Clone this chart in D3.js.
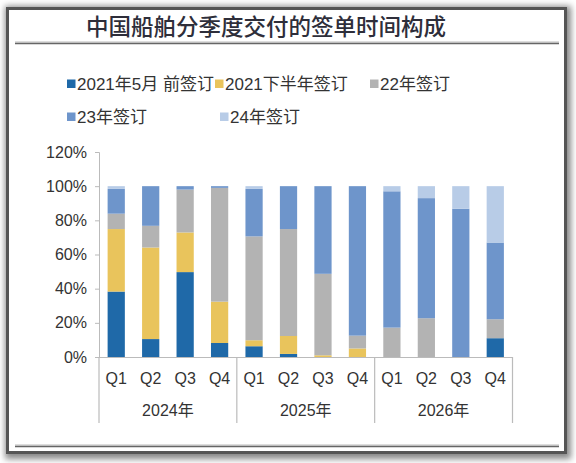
<!DOCTYPE html>
<html><head><meta charset="utf-8">
<script src="https://cdn.jsdelivr.net/npm/d3@7/dist/d3.min.js"></script>
<style>
html,body{margin:0;padding:0;background:#fff;}
svg{display:block;}
</style></head>
<body>
<script>
const title = "中国船舶分季度交付的签单时间构成";
const quarters = ["Q1","Q2","Q3","Q4","Q1","Q2","Q3","Q4","Q1","Q2","Q3","Q4"];
const years = ["2024年","2025年","2026年"];
const seriesNames = ["2021年5月 前签订","2021下半年签订","22年签订","23年签订","24年签订"];
const colors = ["#1f69a8","#e9c45c","#b3b3b3","#6e95cb","#b8cce7"];
const s2021May = [38.3, 10.5, 49.7, 8.2, 6.3, 1.8, 0, 0, 0, 0, 0, 11];
const s2021H2  = [36.6, 53.6, 23.2, 24.2, 3.5, 10.5, 1, 5, 0, 0, 0, 0];
const s22      = [9, 12.7, 25.1, 66.6, 60.8, 62.6, 47.7, 7.5, 17.2, 22.7, 0, 11.1];
const s23      = [14.5, 23.2, 2, 1, 27.8, 25.1, 51.3, 87.5, 79.8, 70.3, 86.8, 44.9];
const s24      = [1.6, 0, 0, 0, 1.6, 0, 0, 0, 3, 7, 13.2, 33];
const yTicks = [0,20,40,60,80,100,120];

const W=576,H=463;
const svg=d3.select("body").append("svg").attr("width",W).attr("height",H);
const defs=svg.append("defs");
const f=defs.append("filter").attr("id","sh").attr("x","-5%").attr("y","-5%").attr("width","110%").attr("height","110%");
f.append("feGaussianBlur").attr("stdDeviation",3);

// frame
svg.append("rect").attr("x",5).attr("y",6).attr("width",566).attr("height",453).attr("fill","#888").attr("filter","url(#sh)");
svg.append("rect").attr("x",7.5).attr("y",8.5).attr("width",558).attr("height",444).attr("fill","#fff").attr("stroke","#555").attr("stroke-width",3);

// title
svg.append("text").attr("x",266).attr("y",35).attr("text-anchor","middle")
  .attr("font-family","'Noto Sans CJK SC'").attr("font-size",22.5).attr("font-weight",500)
  .attr("fill","#2e2e3a").attr("letter-spacing",0).text(title);
[43,446].forEach(y=>{
  svg.append("line").attr("x1",15).attr("x2",559).attr("y1",y-1).attr("y2",y-1).attr("stroke","#bbb").attr("stroke-width",1);
  svg.append("line").attr("x1",15).attr("x2",559).attr("y1",y+0.5).attr("y2",y+0.5).attr("stroke","#666").attr("stroke-width",1.5);
});

// scales
const x=d3.scaleBand().domain(d3.range(12)).range([99,512.5]).paddingInner(0.5).paddingOuter(0.25);
const y=d3.scaleLinear().domain([0,120]).range([357,152]);

const data=quarters.map((q,i)=>({i,v:[s2021May[i],s2021H2[i],s22[i],s23[i],s24[i]]}));
const stack=d3.stack().keys([0,1,2,3,4]).value((d,k)=>d.v[k]);
const layers=stack(data);

const g=svg.append("g");
layers.forEach((layer,k)=>{
  g.append("g").attr("fill",colors[k]).selectAll("rect").data(layer).join("rect")
    .attr("x",d=>x(d.data.i)).attr("width",x.bandwidth())
    .attr("y",d=>y(d[1])).attr("height",d=>Math.max(0,y(d[0])-y(d[1])));
});

const font="'Liberation Sans','Noto Sans CJK SC',sans-serif";
// y axis
const ya=svg.append("g").attr("transform","translate(99,0)")
  .call(d3.axisLeft(y).tickValues(yTicks).tickFormat(d=>d+"%").tickSize(4).tickPadding(8));
ya.select(".domain").attr("stroke","#bbb");
ya.selectAll(".tick line").attr("stroke","#bbb");
ya.selectAll("text").attr("font-family",font).attr("font-size",16).attr("fill","#333");

// x axis
svg.append("line").attr("x1",99).attr("x2",512.5).attr("y1",357.5).attr("y2",357.5).attr("stroke","#bbb");
const grpW=(512.5-99)/3;
[0,1,2,3].forEach(j=>{
  const xx=99+j*grpW;
  svg.append("line").attr("x1",xx).attr("x2",xx).attr("y1",357).attr("y2",423).attr("stroke","#bbb").attr("stroke-width",1.2);
});
svg.append("g").selectAll("text").data(quarters).join("text")
  .attr("x",(d,i)=>x(i)+x.bandwidth()/2).attr("y",384).attr("text-anchor","middle")
  .attr("font-family",font).attr("font-size",16).attr("fill","#333").text(d=>d);
svg.append("g").selectAll("text").data(years).join("text")
  .attr("x",(d,j)=>99+(j+0.5)*grpW).attr("y",416).attr("text-anchor","middle")
  .attr("font-family",font).attr("font-size",16).attr("fill","#333").text(d=>d);

// legend
const legPos=[[67,84],[215,84],[370,84],[67,117],[220,117]];
seriesNames.forEach((n,k)=>{
  const [lx,ly]=legPos[k];
  svg.append("rect").attr("x",lx).attr("y",ly-4.5).attr("width",8.5).attr("height",8.5).attr("fill",colors[k]);
  svg.append("text").attr("x",lx+10).attr("y",ly+6).attr("font-family",font).attr("font-size",17).attr("fill","#333").text(n);
});
</script>
</body></html>
